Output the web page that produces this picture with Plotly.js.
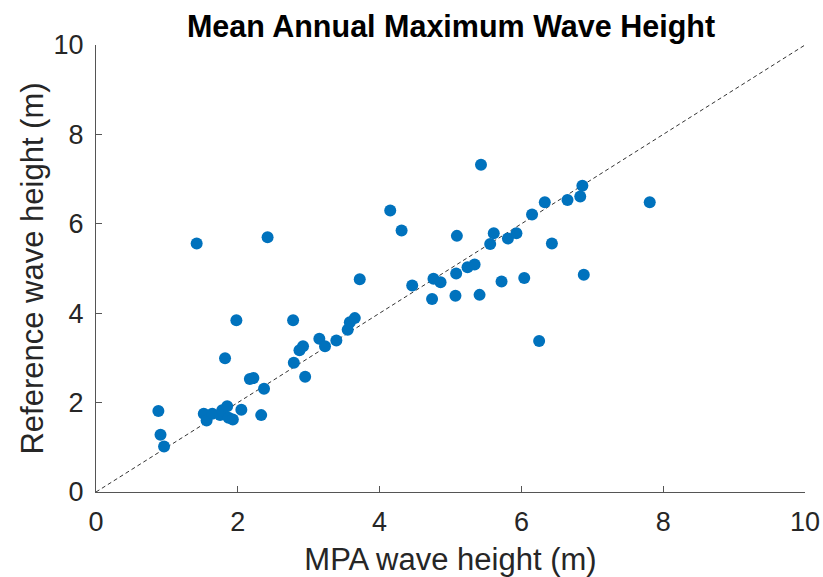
<!DOCTYPE html>
<html>
<head>
<meta charset="utf-8">
<script src="https://cdn.plot.ly/plotly-3.0.1.min.js"></script>
<style>
  html, body { margin: 0; padding: 0; background: #ffffff; }
  #chart { width: 823px; height: 577px; }
</style>
</head>
<body>
<div id="chart"></div>
<script>
// MPA wave height (m)
const mpaHeight = [
  0.88, 0.91, 0.96, 1.42, 1.52, 1.56, 1.64, 1.75, 1.78, 1.82,
  1.85, 1.87, 1.93, 1.98, 2.05, 2.17, 2.22, 2.33, 2.37, 2.42,
  2.78, 2.79, 2.87, 2.92, 2.95, 3.15, 3.23, 3.39, 3.55, 3.58,
  3.65, 3.72, 4.15, 4.31, 4.46, 4.74, 4.76, 4.86, 5.07, 5.08,
  5.09, 5.24, 5.34, 5.41, 5.43, 5.56, 5.61, 5.72, 5.81, 5.93,
  6.04, 6.15, 6.25, 6.33, 6.43, 6.65, 6.83, 6.86, 6.88, 7.81
];
// Reference wave height (m)
const refHeight = [
  1.81, 1.28, 1.02, 5.56, 1.75, 1.60, 1.75, 1.72, 1.83, 2.99,
  1.92, 1.66, 1.62, 3.84, 1.84, 2.53, 2.55, 1.72, 2.31, 5.70,
  3.84, 2.89, 3.17, 3.26, 2.58, 3.43, 3.26, 3.39, 3.63, 3.80,
  3.89, 4.76, 6.30, 5.85, 4.62, 4.32, 4.77, 4.69, 4.39, 4.89,
  5.73, 5.03, 5.09, 4.41, 7.32, 5.55, 5.79, 4.71, 5.67, 5.79,
  4.79, 6.21, 3.38, 6.48, 5.56, 6.53, 6.61, 6.85, 4.86, 6.48
];
// 1:1 reference line
const lineX = [0, 10];
const lineY = [0, 10];
const tickVals = [0, 2, 4, 6, 8, 10];

const axisCol = '#555555';
const textCol = '#262626';
const font = 'Arial, "Liberation Sans", Helvetica, sans-serif';

const traces = [
  {
    x: lineX, y: lineY, type: 'scatter', mode: 'lines',
    line: { color: '#333333', width: 1, dash: '4px,3px' },
    hoverinfo: 'skip', showlegend: false
  },
  {
    x: mpaHeight, y: refHeight, type: 'scatter', mode: 'markers',
    marker: { color: '#0072BD', size: 12, line: { width: 0 } },
    showlegend: false
  }
];

const axisCommon = {
  range: [0, 10],
  tickvals: tickVals,
  ticks: 'inside',
  ticklen: 6,
  tickwidth: 1,
  tickcolor: axisCol,
  showline: true,
  linecolor: axisCol,
  linewidth: 1,
  showgrid: false,
  zeroline: false,
  tickfont: { family: font, size: 27, color: textCol },
  automargin: false
};

const layout = {
  width: 823,
  height: 577,
  paper_bgcolor: '#ffffff',
  plot_bgcolor: '#ffffff',
  margin: { l: 96, r: 18, t: 45, b: 85 },
  title: {
    text: '<b>Mean Annual Maximum Wave Height</b>',
    font: { family: font, size: 30.5, color: '#000000' },
    x: 451 / 823, xref: 'container', xanchor: 'center',
    y: 1 - 26 / 577, yref: 'container', yanchor: 'middle'
  },
  xaxis: Object.assign({}, axisCommon, {
    ticklabelstandoff: 6,
    title: { text: 'MPA wave height (m)', font: { family: font, size: 31, color: textCol }, standoff: 21 }
  }),
  yaxis: Object.assign({}, axisCommon, {
    ticklabelstandoff: 6,
    title: { text: 'Reference wave height (m)', font: { family: font, size: 31, color: textCol }, standoff: 0 }
  }),
  showlegend: false
};

Plotly.newPlot('chart', traces, layout, { displayModeBar: false, staticPlot: true });
</script>
</body>
</html>
